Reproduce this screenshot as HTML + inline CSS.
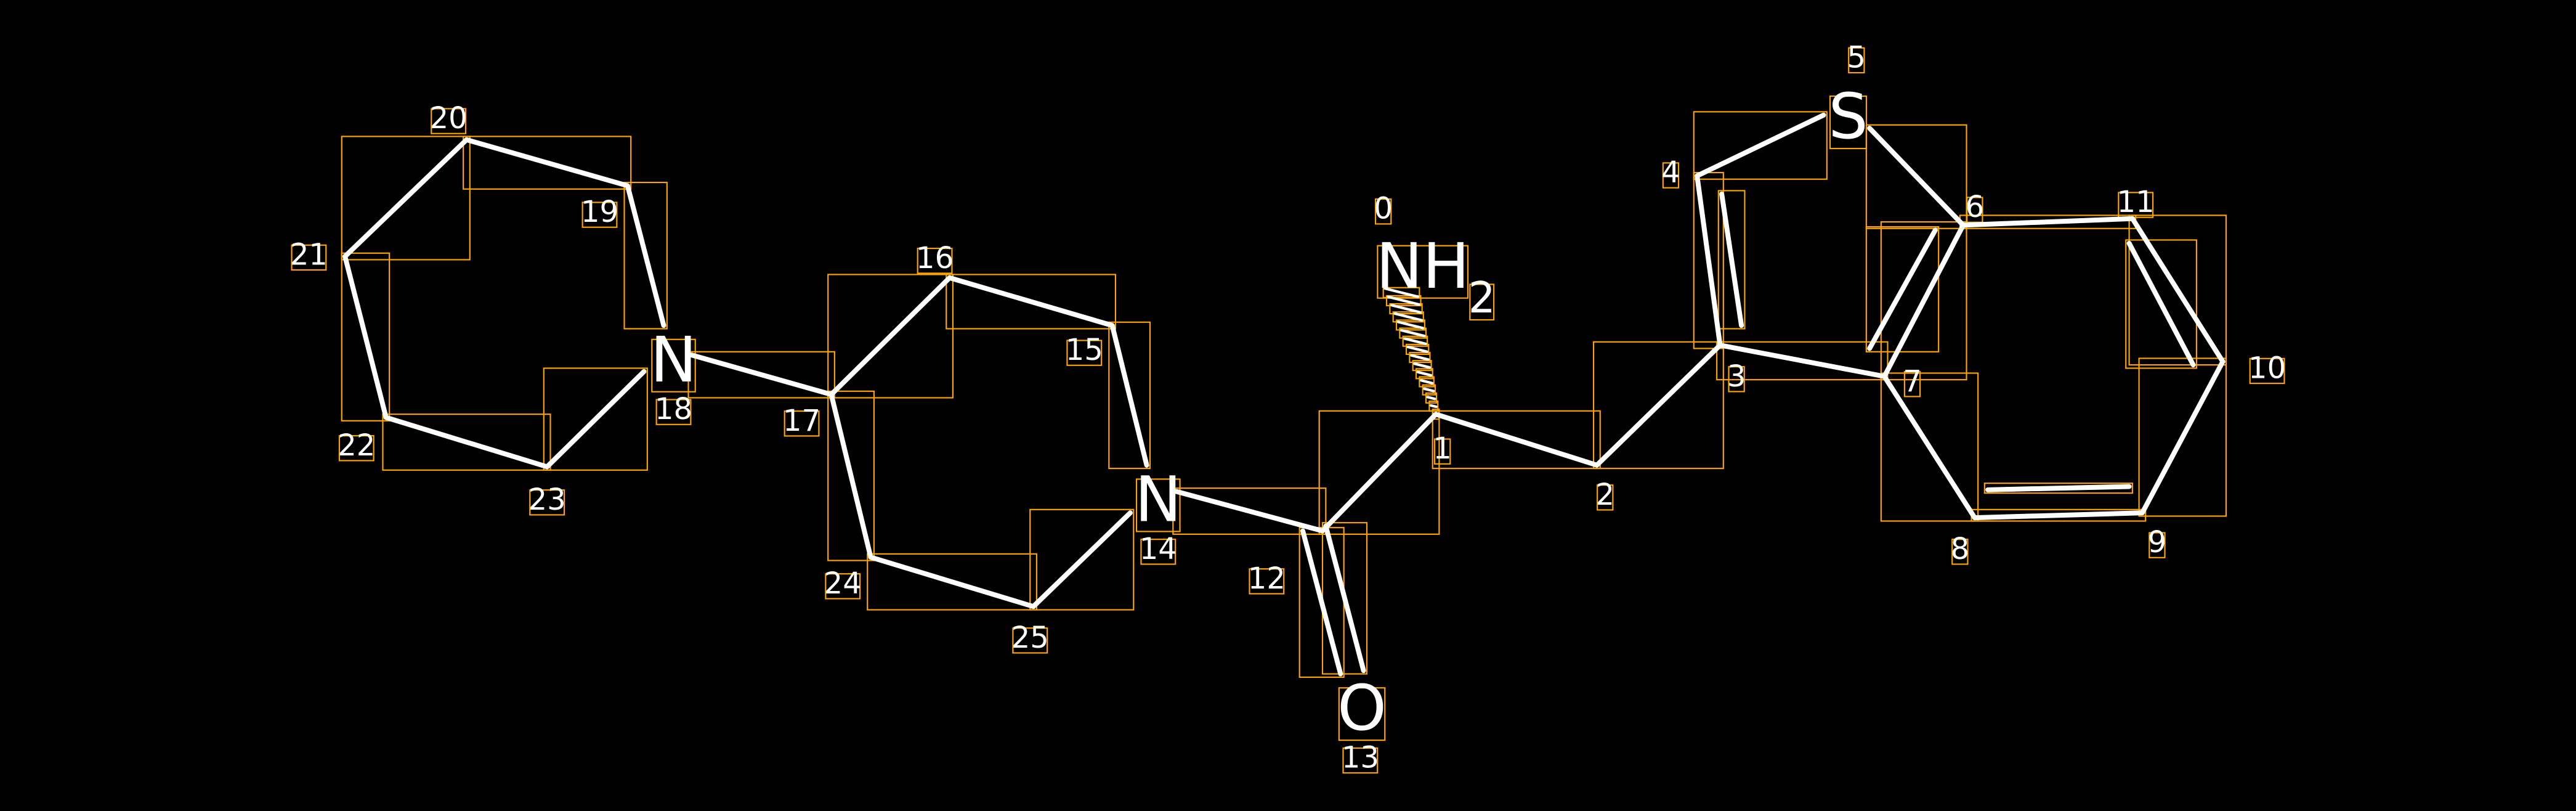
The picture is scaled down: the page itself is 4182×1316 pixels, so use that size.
<!DOCTYPE html>
<html><head><meta charset="utf-8"><style>
html,body{margin:0;padding:0;background:#000;}
svg{display:block}
</style></head><body>
<svg id="s" width="4182" height="1316" viewBox="0 0 1568 493.4" xmlns="http://www.w3.org/2000/svg">
<rect width="1568" height="493.4" fill="#000"/>
<g id="boxes" fill="none" stroke="#ffa500" stroke-width="0.8"></g>
<g id="bonds" stroke="#fff" stroke-width="3" stroke-linecap="round"></g>
<g id="labels" font-family="'DejaVu Sans','Liberation Sans',sans-serif" fill="#fff"></g>
</svg>
<script>
var NS="http://www.w3.org/2000/svg";
function el(p,t,a,txt){var e=document.createElementNS(NS,t);for(var k in a)e.setAttribute(k,a[k]);if(txt!==undefined)e.textContent=txt;document.getElementById(p).appendChild(e);return e;}
var B=[
[284,85,382,113],[284,85,210,156],[382,113,404,198],[421,216,506,240],[210,156,235,254],[235,254,333,284],[333,284,392,226],
[506,240,578,169],[578,169,677,198],[677,198,698,283],[716,299,805,323],[805,323,874,252],[874,252,972,283],[972,283,1047,210],
[1033,107,1047,210],[1048,118,1060,198],[1033,107,1110,70],[1138,78,1195,137],[1195,137,1147,229],[1178,140,1138,212],
[1047,210,1147,229],[1147,229,1202,315],[1202,315,1304,312],[1210,298,1296,296],[1304,312,1353,220],[1353,220,1298,133],
[1296,148,1335,222],[1298,133,1195,137],[506,240,530,339],[530,339,629,369],[629,369,688,312],[793,323,816,410],[807,320,830,408]
];
B.forEach(function(b){
 el("bonds","line",{x1:b[0],y1:b[1],x2:b[2],y2:b[3]});
 var x=Math.min(b[0],b[2])-2,y=Math.min(b[1],b[3])-2,w=Math.abs(b[0]-b[2])+4,h=Math.abs(b[1]-b[3])+4;
 el("boxes","rect",{x:x,y:y,width:w,height:h});
});
// hashed wedge from atom 1 to N
var ax=874,ay=252,bx=853,by=178,n=16;
for(var i=0;i<n;i++){var t=i/(n-1);var cx=ax+(bx-ax)*t,cy=ay+(by-ay)*t;var hw=1+9*t;
 el("bonds","line",{x1:cx-hw,y1:cy-hw*0.25,x2:cx+hw,y2:cy+hw*0.25,"stroke-width":1.6});
 el("boxes","rect",{x:cx-hw-1,y:cy-3,width:2*hw+2,height:6});}
var L=[
["0",842,133,18],["1",878,279,18],["2",977,307,18],["3",1057,235,18],["4",1017,111,18],["5",1130,41,18],["6",1202,132,18],
["7",1164,238,18],["8",1193,340,18],["9",1313,336,18],["10",1380,230,18],["11",1300,129,18],["12",771,358,18],["13",828,467,18],
["14",705,340,18],["15",660,219,18],["16",569,163,18],["17",488,262,18],["18",410,255,18],["19",365,135,18],["20",273,78,18],
["21",188,161,18],["22",217,277,18],["23",333,310,18],["24",513,361,18],["25",627,394,18],
["N",410,232,38],["N",705,317,38],["O",829,444,38],["S",1125,84,38],["NH",866,175,38],["2",902,190,26]
];
L.forEach(function(l){
 var t=el("labels","text",{x:l[1],y:l[2],"font-size":l[3],"text-anchor":"middle"},l[0]);
 var bb=t.getBBox();
 el("boxes","rect",{x:bb.x+1,y:bb.y+bb.height*0.22,width:bb.width-2,height:bb.height*0.72});
});
</script>
</body></html>
